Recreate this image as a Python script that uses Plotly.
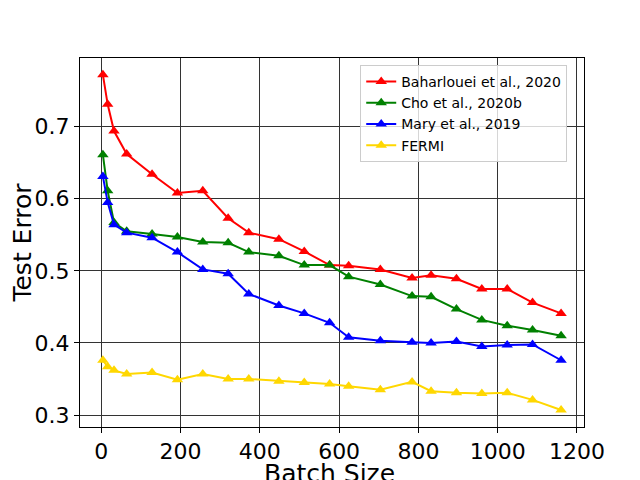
import plotly.graph_objects as go

# batch sizes (x) and test error for each method
batch_size = [4, 16, 32, 64, 128, 192, 256, 320, 372, 448, 512, 576, 624, 704,
              784, 832, 896, 960, 1024, 1088, 1160]

baharlouei = [0.772, 0.731, 0.694, 0.662, 0.634, 0.608, 0.611, 0.573, 0.553, 0.544,
              0.527, 0.508, 0.507, 0.502, 0.490, 0.494, 0.489, 0.475, 0.475, 0.456, 0.441]
cho = [0.661, 0.611, 0.567, 0.555, 0.551, 0.547, 0.540, 0.539, 0.526, 0.521,
       0.508, 0.508, 0.492, 0.481, 0.465, 0.464, 0.447, 0.432, 0.424, 0.418, 0.410]
mary = [0.631, 0.595, 0.564, 0.553, 0.546, 0.526, 0.502, 0.496, 0.468, 0.452,
        0.441, 0.428, 0.408, 0.403, 0.401, 0.400, 0.402, 0.395, 0.397, 0.398, 0.376]
fermi = [0.376, 0.367, 0.362, 0.357, 0.359, 0.349, 0.357, 0.350, 0.350, 0.347,
         0.345, 0.343, 0.340, 0.335, 0.346, 0.333, 0.331, 0.330, 0.331, 0.321, 0.307]

series = [
    ("Baharlouei et al., 2020", baharlouei, "red"),
    ("Cho et al., 2020b", cho, "green"),
    ("Mary et al., 2019", mary, "blue"),
    ("FERMI", fermi, "gold"),
]

fig = go.Figure()
for name, vals, col in series:
    fig.add_trace(go.Scatter(
        x=batch_size, y=vals, name=name, mode="lines+markers",
        line=dict(color=col, width=2),
        marker=dict(symbol="triangle-up", size=10, color=col),
    ))

# page body adds an 8px offset, so the figure is 8px smaller on each side
font = "DejaVu Sans, sans-serif"
fig.update_layout(
    width=632, height=472,
    margin=dict(l=72, r=56, t=50, b=53),
    paper_bgcolor="white", plot_bgcolor="white",
    font=dict(family=font, color="black"),
    legend=dict(x=0.556, y=0.981, xanchor="left", yanchor="top",
                bgcolor="rgba(255,255,255,0.8)", bordercolor="#cccccc", borderwidth=1,
                font=dict(size=14), tracegroupgap=0),
)
# x title as an annotation so it sits clear of the tick labels
fig.add_annotation(text="Batch Size", xref="paper", yref="paper", x=0.495, y=0,
                   xanchor="center", yanchor="top", yshift=-30, showarrow=False,
                   font=dict(size=25))
fig.update_xaxes(
    range=[-53.8, 1217.8], tickvals=[0, 200, 400, 600, 800, 1000, 1200],
    showgrid=True, gridcolor="#333333", gridwidth=1, zeroline=False,
    showline=True, linecolor="black", linewidth=1, mirror=True, automargin=False,
    ticks="outside", ticklen=5, tickcolor="black", tickfont=dict(size=22),
)
fig.update_yaxes(
    range=[0.2834, 0.7953], tickvals=[0.3, 0.4, 0.5, 0.6, 0.7],
    showgrid=True, gridcolor="#333333", gridwidth=1, zeroline=False,
    showline=True, linecolor="black", linewidth=1, mirror=True, automargin=False,
    ticks="outside", ticklen=5, tickcolor="black", tickfont=dict(size=22),
    title=dict(text="Test Error", font=dict(size=25), standoff=6),
)

fig.write_html("out.html")
